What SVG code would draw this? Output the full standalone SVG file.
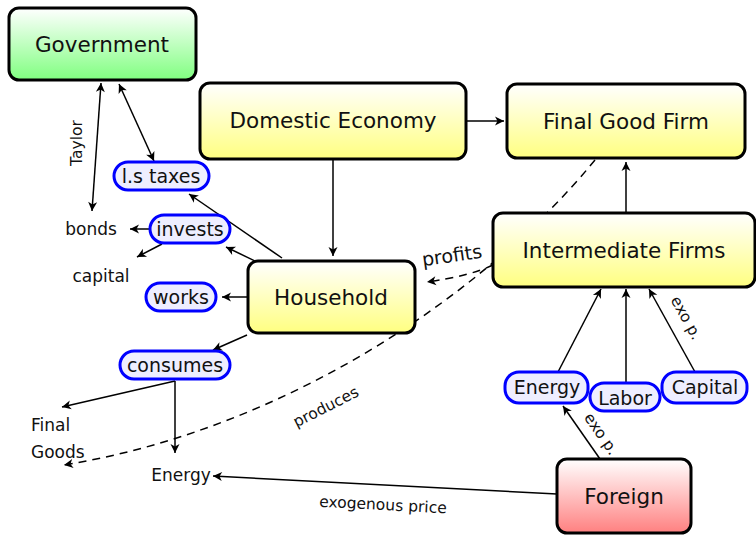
<svg xmlns="http://www.w3.org/2000/svg" width="756" height="537" viewBox="0 0 756 537">
<defs>
<linearGradient id="gy" x1="0" y1="0" x2="0" y2="1"><stop offset="0" stop-color="#ffffff"/><stop offset="1" stop-color="#ffff80"/></linearGradient>
<linearGradient id="gg" x1="0" y1="0" x2="0" y2="1"><stop offset="0" stop-color="#ffffff"/><stop offset="1" stop-color="#80ff80"/></linearGradient>
<linearGradient id="gr" x1="0" y1="0" x2="0" y2="1"><stop offset="0" stop-color="#ffffff"/><stop offset="1" stop-color="#ff8080"/></linearGradient>
<marker id="ah" viewBox="-10 -5 12 10" refX="0" refY="0" markerWidth="12" markerHeight="10" markerUnits="userSpaceOnUse" orient="auto-start-reverse">
<path d="M-9,-4.5 L0,0 L-9,4.5 L-6.5,0 z" fill="#000"/>
</marker>
<style>
.main{stroke:#000;stroke-width:3}
.pill{fill:#eeeeff;stroke:#0000ff;stroke-width:3}
.e{fill:none;stroke:#000;stroke-width:1.5}
.d{stroke-dasharray:8 6}
.a{marker-end:url(#ah)}
.b{marker-start:url(#ah);marker-end:url(#ah)}
text{font-family:"DejaVu Sans","Liberation Sans",sans-serif;fill:#111}
.t1{font-size:21.5px;text-anchor:middle}
.t2{font-size:19px;text-anchor:middle}
.t3{font-size:17px}
.t4{font-size:15.5px;text-anchor:middle}
</style>
</defs>
<g id="connectors">
<path class="e b" d="M92,211 L101,83"/>
<path class="e b" d="M119,84 L154,161"/>
<path class="e a" d="M282,258 L189,194"/>
<path class="e a" d="M257,262 L226,247"/>
<path class="e a" d="M150,229 L130,229"/>
<path class="e a" d="M162,244 L137,257"/>
<path class="e a" d="M248,297 L222,297"/>
<path class="e a" d="M247,335 L213,350"/>
<path class="e a" d="M175,381 L62,407"/>
<path class="e a" d="M175,381 L175,453"/>
<path class="e a" d="M333,160 L333,256"/>
<path class="e a" d="M466,121 L504,121"/>
<path class="e a" d="M626,212 L626,162"/>
<path class="e a" d="M558,372 L601,289"/>
<path class="e a" d="M626,383 L626,289"/>
<path class="e a" d="M695,372 L649,289"/>
<path class="e a" d="M600,459 L563,406"/>
<path class="e a" d="M557,494 L213,476"/>
<path class="e d a" d="M493,265 Q470,276 427,282"/>
<path class="e d a" d="M595,160 C480,300 280,430 64,465"/>
<text class="t4" transform="translate(77,143) rotate(-90)" dy="5">Taylor</text>
<text class="t4" transform="translate(326,407) rotate(-27)" dy="5">produces</text>
<text class="t4" transform="translate(686,318) rotate(61)" dy="5">exo p.</text>
<text class="t4" transform="translate(601,434) rotate(55)" dy="5">exo p.</text>
<text class="t4" transform="translate(383,505) rotate(3)" dy="5">exogenous price</text>
<text class="t2" transform="translate(452,256) rotate(-8)" dy="6">profits</text>
</g>
<g id="government"><rect class="main" x="9" y="8" width="187" height="72" rx="10" fill="url(#gg)"/><text class="t1" x="102" y="52">Government</text></g>
<g id="domestic"><rect class="main" x="200" y="83" width="266" height="76" rx="10" fill="url(#gy)"/><text class="t1" x="333" y="128">Domestic Economy</text></g>
<g id="finalgood"><rect class="main" x="507" y="84" width="238" height="74" rx="10" fill="url(#gy)"/><text class="t1" x="626" y="129">Final Good Firm</text></g>
<g id="intermediate"><rect class="main" x="493" y="213" width="262" height="74" rx="10" fill="url(#gy)"/><text class="t1" x="624" y="258">Intermediate Firms</text></g>
<g id="household"><rect class="main" x="248" y="261" width="167" height="72" rx="10" fill="url(#gy)"/><text class="t1" x="331" y="305">Household</text></g>
<g id="foreign"><rect class="main" x="557" y="459" width="134" height="74" rx="10" fill="url(#gr)"/><text class="t1" x="624" y="504">Foreign</text></g>
<g id="lstaxes"><rect class="pill" x="114" y="162" width="95" height="28" rx="14"/><text class="t2" x="161" y="183">l.s taxes</text></g>
<g id="invests"><rect class="pill" x="150" y="215" width="80" height="28" rx="14"/><text class="t2" x="190" y="236">invests</text></g>
<g id="works"><rect class="pill" x="146" y="283" width="70" height="28" rx="14"/><text class="t2" x="181" y="304">works</text></g>
<g id="consumes"><rect class="pill" x="120" y="351" width="110" height="28" rx="14"/><text class="t2" x="175" y="372">consumes</text></g>
<g id="energy-in"><rect class="pill" x="505" y="372" width="83" height="31" rx="14"/><text class="t2" x="547" y="394">Energy</text></g>
<g id="labor"><rect class="pill" x="590" y="383" width="70" height="28" rx="14"/><text class="t2" x="625" y="405">Labor</text></g>
<g id="capital-in"><rect class="pill" x="662" y="372" width="85" height="31" rx="14"/><text class="t2" x="705" y="394">Capital</text></g>
<g id="bonds"><text class="t3" x="91" y="235" text-anchor="middle">bonds</text></g>
<g id="capital"><text class="t3" x="101" y="282" text-anchor="middle">capital</text></g>
<g id="finalgoods"><text class="t3" x="31" y="431">Final</text><text class="t3" x="31" y="458">Goods</text></g>
<g id="energy"><text class="t3" x="181" y="481" text-anchor="middle">Energy</text></g>
</svg>
